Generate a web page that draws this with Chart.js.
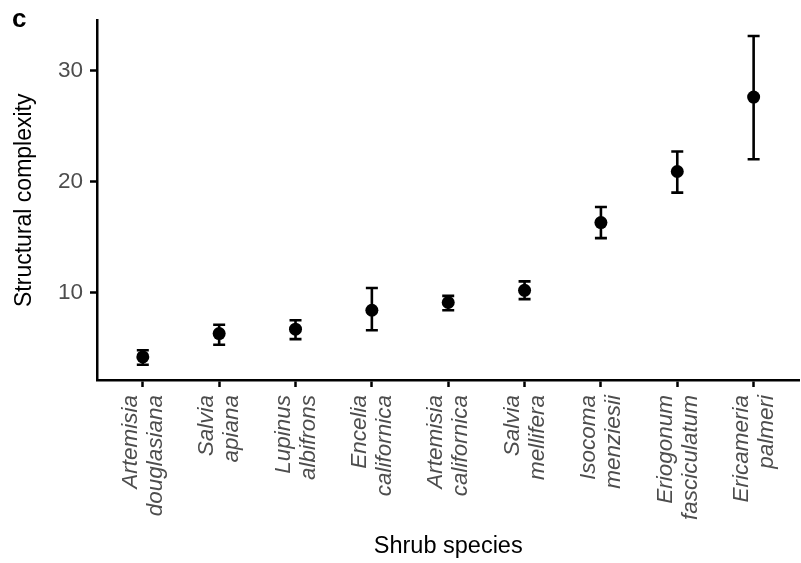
<!DOCTYPE html>
<html>
<head>
<meta charset="utf-8">
<script src="https://cdn.jsdelivr.net/npm/chart.js@4"></script>
<style>
    html, body { margin: 0; padding: 0; background: #fff; overflow: hidden; }
    #wrap { position: relative; width: 812px; height: 563px; }
</style>
</head>
<body>
<div id="wrap"><canvas id="complexityChart"></canvas></div>
<script>
// species on the x axis, in plotting order (genus / epithet on two lines)
const genus = ['Artemisia', 'Salvia', 'Lupinus', 'Encelia', 'Artemisia', 'Salvia', 'Isocoma', 'Eriogonum', 'Ericameria'];
const epithet = ['douglasiana', 'apiana', 'albifrons', 'californica', 'californica', 'mellifera', 'menziesii', 'fasciculatum', 'palmeri'];

// mean structural complexity and error bar limits
const means = [4.2, 6.3, 6.7, 8.4, 9.1, 10.2, 16.3, 20.9, 27.6];
const lower = [3.5, 5.3, 5.8, 6.6, 8.4, 9.4, 14.9, 19.0, 22.0];
const upper = [4.8, 7.1, 7.5, 10.4, 9.7, 11.0, 17.7, 22.7, 33.1];

const yTicks = [10, 20, 30];

const FONT = '"Liberation Sans", Arial, Helvetica, sans-serif';
const TICK_GREY = '#4d4d4d';

// ************** error bars (drawn under the points)
const errorBars = {
    id: 'errorBars',
    beforeDatasetsDraw(chart) {
        const { ctx, scales: { x, y } } = chart;
        ctx.save();
        ctx.strokeStyle = '#000';
        ctx.lineWidth = 2.6;
        means.forEach((m, i) => {
            const px = x.getPixelForValue(i + 1);
            const top = y.getPixelForValue(upper[i]);
            const bot = y.getPixelForValue(lower[i]);
            ctx.beginPath();
            ctx.moveTo(px, top); ctx.lineTo(px, bot);
            ctx.moveTo(px - 6, top); ctx.lineTo(px + 6, top);
            ctx.moveTo(px - 6, bot); ctx.lineTo(px + 6, bot);
            ctx.stroke();
        });
        ctx.restore();
    }
};

// ************** panel letter
const panelTag = {
    id: 'panelTag',
    afterDraw(chart) {
        const ctx = chart.ctx;
        ctx.save();
        ctx.fillStyle = '#000';
        ctx.font = 'bold 26px ' + FONT;
        ctx.textAlign = 'left';
        ctx.textBaseline = 'alphabetic';
        ctx.fillText('c', 12, 27);
        ctx.restore();
    }
};

const ctx = document.getElementById('complexityChart').getContext('2d');

new Chart(ctx, {
    type: 'scatter',
    data: {
        datasets: [{
            data: means.map((m, i) => ({ x: i + 1, y: m })),
            backgroundColor: '#000',
            borderColor: '#000',
            pointRadius: 6.5,
            pointHoverRadius: 6.5,
            borderWidth: 0
        }]
    },
    options: {
        responsive: true,
        maintainAspectRatio: false,
        animation: false,
        layout: { padding: { top: 14, left: 0, right: 0, bottom: 0 } },
        plugins: {
            legend: { display: false },
            tooltip: { enabled: false }
        },
        scales: {
            x: {
                type: 'linear',
                min: 0.4,
                max: 9.6,
                afterBuildTicks: scale => {
                    scale.ticks = genus.map((g, i) => ({ value: i + 1 }));
                },
                afterFit: scale => { scale.height = 183; },
                border: { display: true, color: '#000', width: 2.5 },
                grid: { display: true, drawOnChartArea: false, drawTicks: true, tickLength: 7, tickWidth: 2.5, tickColor: '#000' },
                ticks: {
                    autoSkip: false,
                    minRotation: 90,
                    maxRotation: 90,
                    padding: 8,
                    labelOffset: -12,
                    color: TICK_GREY,
                    font: { family: FONT, size: 22.5, style: 'italic', lineHeight: 1.11 },
                    callback: value => [genus[value - 1], epithet[value - 1]]
                },
                title: {
                    display: true,
                    text: 'Shrub species',
                    color: '#000',
                    padding: { top: 0, bottom: 2 },
                    font: { family: FONT, size: 23.5 }
                }
            },
            y: {
                min: 2.12,
                max: 34.5,
                afterBuildTicks: scale => {
                    scale.ticks = yTicks.map(v => ({ value: v }));
                },
                afterFit: scale => { scale.width = 97; },
                border: { display: true, color: '#000', width: 2.5 },
                grid: { display: true, drawOnChartArea: false, drawTicks: true, tickLength: 7, tickWidth: 2.5, tickColor: '#000' },
                ticks: {
                    padding: 7,
                    color: TICK_GREY,
                    font: { family: FONT, size: 22.5 }
                },
                title: {
                    display: true,
                    text: 'Structural complexity',
                    color: '#000',
                    padding: { top: 11, bottom: 0 },
                    font: { family: FONT, size: 23 }
                }
            }
        }
    },
    plugins: [errorBars, panelTag]
});
</script>
</body>
</html>
